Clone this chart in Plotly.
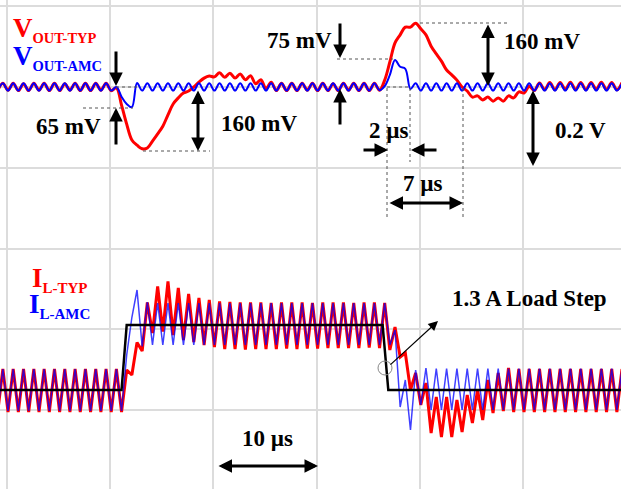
import plotly.graph_objects as go

# ---------------- data ----------------
# sampling of the waveform extrema: one value every half switching period
T0 = -0.9   # µs, time of first sample
DT = 0.5    # µs between samples (ripple trough / peak alternately)

# output voltage deviation, mV
VOUT_TYP = [
    -9, 9, -8, 9, -9, 8, -9, 9, -8, 9, -9, 9, -9, 8, -8, 9, -9, 9, -9, 9, -8, 9,   # k=-1..9
    -9, -2, -45, -92, -131, -144, -153, -151, -134, -116, -97, -69, -42, -27,    # k=10..16
    -15, -10, 0, 12, 22, 27, 25, 35, 24, 34, 22, 32, 18, 28, 8, 18, -4, 12,      # k=17..25
    -9, 9, -9, 9, -9, 9, -8, 9, -9, 9, -9, 8, -9, 9, -8, 9, -9, 9, -9, 9,        # k=26..35
    -8, 17, 62, 109, 129, 148, 148, 158, 144, 129, 101, 82, 64, 42, 30, 17,      # k=36..43
    0, -10, -25, -22, -32, -25, -35, -27, -35, -22, -27, -12, -15, 2, -9, 10,    # k=44..51
    -7, 11, -7, 11, -6, 12, -7, 11, -7, 11, -6, 12, -7, 11, -7, 11,              # k=52..59
]
VOUT_AMC = [
    -9, 9, -9, 9, -9, 9, -9, 9, -9, 9, -9, 9, -9, 9, -9, 9, -9, 9, -9, 9, -9, 9,  # k=-1..9
    -9, 0, -24, -42, -50, 10,                                                    # k=10..12
    -9, 9, -9, 9, -9, 9, -9, 9, -9, 9, -9, 9, -9, 9, -9, 9, -9, 9, -9, 9,        # k=13..22
    -9, 9, -9, 9, -9, 9, -9, 9, -9, 9, -9, 9, -9, 9, -9, 9, -9, 9, -9, 9,        # k=23..32
    -9, 9, -9, 9, -9, 9,                                                         # k=33..35
    -8, 2, 30, 67, 50, 45, -5, 9,                                                # k=36..39
    -9, 9, -9, 9, -9, 9, -9, 9, -9, 9, -9, 9, -9, 9, -9, 9, -9, 9, -9, 9,        # k=40..49
    -9, 9, -9, 9, -9, 9, -9, 9, -9, 9, -9, 9, -9, 9, -9, 9, -9, 9, -9, 9,        # k=50..59
]

# inductor current relative to the light-load level, A
IL_TYP = [
    -0.44, 0.42, -0.44, 0.42, -0.44, 0.42, -0.44, 0.42, -0.44, 0.42, -0.44, 0.42,   # k=-1..4
    -0.44, 0.42, -0.44, 0.42, -0.44, 0.42, -0.44, 0.42, -0.44, 0.42, -0.44, 0.42,   # k=5..10
    -0.44, 0.40, 0.30, 0.95, 0.78, 1.75, 1.14, 2.07, 1.17, 2.17, 1.10, 2.04,        # k=11..16
    1.00, 1.92, 0.96, 1.84, 0.90, 1.80, 0.86, 1.77, 0.82, 1.76,                     # k=17..21
    0.82, 1.75, 0.81, 1.75, 0.82, 1.75, 0.82, 1.74, 0.82, 1.75, 0.83, 1.75,         # k=22..27
    0.82, 1.75, 0.83, 1.74, 0.83, 1.75, 0.84, 1.75, 0.84, 1.75, 0.84, 1.74,         # k=28..33
    0.84, 1.75, 0.85, 1.75, 0.84, 1.74,                                             # k=34..36
    0.80, 1.26, 0.66, 0.74, 0.00, 0.34, -0.30, 0.14, -0.86, -0.14, -0.94, -0.14,    # k=37..42
    -0.94, -0.20, -0.84, -0.10, -0.66, 0.00, -0.60, 0.20, -0.46, 0.34, -0.42, 0.44, # k=43..48
    -0.44, 0.42, -0.44, 0.42, -0.44, 0.42, -0.44, 0.42, -0.44, 0.42, -0.44, 0.42,   # k=49..54
    -0.44, 0.42, -0.44, 0.42, -0.44, 0.42, -0.44, 0.42, -0.44, 0.42,                # k=55..59
]
IL_AMC = [
    -0.42, 0.42, -0.42, 0.42, -0.42, 0.42, -0.42, 0.42, -0.42, 0.42, -0.42, 0.42,   # k=-1..4
    -0.42, 0.42, -0.42, 0.42, -0.42, 0.42, -0.42, 0.42, -0.42, 0.42, -0.42, 0.42,   # k=5..10
    -0.42, 0.70, 1.45, 2.00, 0.87, 1.76,                                            # k=11..13
    0.90, 1.74, 0.90, 1.74, 0.90, 1.74, 0.90, 1.74, 0.90, 1.74, 0.90, 1.74,         # k=14..19
    0.90, 1.74, 0.90, 1.74, 0.90, 1.74, 0.90, 1.74, 0.90, 1.74, 0.90, 1.74,         # k=20..25
    0.90, 1.74, 0.90, 1.74, 0.90, 1.74, 0.90, 1.74, 0.90, 1.74, 0.90, 1.74,         # k=26..31
    0.90, 1.74, 0.90, 1.74, 0.90, 1.74, 0.90, 1.74, 0.90, 1.74,                     # k=32..36
    0.90, 1.20, -0.34, 0.20, -0.80, 0.40, -0.30, 0.44,                              # k=37..40
    -0.40, 0.43, -0.40, 0.43, -0.40, 0.43, -0.40, 0.43, -0.40, 0.43, -0.40, 0.43,   # k=41..46
    -0.40, 0.43, -0.40, 0.43, -0.40, 0.43, -0.40, 0.43, -0.40, 0.43, -0.40, 0.43,   # k=47..52
    -0.40, 0.43, -0.40, 0.43, -0.40, 0.43, -0.40, 0.43, -0.40, 0.43, -0.40, 0.43,   # k=53..58
    -0.40, 0.43,                                                                    # k=59
]

# 1.3 A load step (load current), µs / A
STEP_T = [-1.0, 11.1, 11.6, 36.4, 36.95, 60.0]
STEP_I = [0.0, 0.0, 1.3, 1.3, 0.0, 0.0]

t_v = [T0 + DT * i for i in range(len(VOUT_TYP))]
t_va = [T0 + DT * i for i in range(len(VOUT_AMC))]
t_i = [T0 + DT * i for i in range(len(IL_TYP))]
t_ia = [T0 + DT * i for i in range(len(IL_AMC))]

RED = "#ff0000"
BLUE = "#0000ff"
W, H = 621, 489
SERIF = "Liberation Serif"

fig = go.Figure()
fig.add_trace(go.Scatter(x=t_v, y=VOUT_TYP, mode="lines", yaxis="y",
                         line=dict(color=RED, width=3, shape="spline", smoothing=1.0)))
fig.add_trace(go.Scatter(x=t_va, y=VOUT_AMC, mode="lines", yaxis="y",
                         line=dict(color=BLUE, width=2, shape="spline", smoothing=1.0)))
fig.add_trace(go.Scatter(x=t_i, y=IL_TYP, mode="lines", yaxis="y2",
                         line=dict(color=RED, width=3)))
fig.add_trace(go.Scatter(x=t_ia, y=IL_AMC, mode="lines", yaxis="y2", opacity=0.75,
                         line=dict(color=BLUE, width=1.5)))
fig.add_trace(go.Scatter(x=STEP_T, y=STEP_I, mode="lines", yaxis="y2",
                         line=dict(color="black", width=2.5)))


def P(px, py):
    return px / W, 1 - py / H


shapes = []


def dotted(x0, y0, x1, y1):
    a, b = P(x0, y0)
    c, d = P(x1, y1)
    shapes.append(dict(type="line", xref="paper", yref="paper", x0=a, y0=b, x1=c, y1=d,
                       line=dict(color="#555555", width=1, dash="dot")))


dotted(116, 87, 137, 87)
dotted(83, 108, 133, 108)
dotted(143, 151, 210, 151)
dotted(337, 59, 393, 59)
dotted(387, 87, 410, 87)
dotted(420, 23, 507, 23)
dotted(387, 88, 387, 218)
dotted(410, 88, 410, 162)
dotted(463, 88, 463, 218)

cx0, cy0 = P(378, 361)
cx1, cy1 = P(392, 375)
shapes.append(dict(type="circle", xref="paper", yref="paper", x0=cx0, y0=cy1, x1=cx1, y1=cy0,
                   line=dict(color="#888888", width=1)))

ann = []


def arrow(tx, ty, hx, hy, both=False, width=3, size=0.9):
    x, y = P(hx, hy)
    ann.append(dict(xref="paper", yref="paper", x=x, y=y, ax=tx - hx, ay=ty - hy,
                    text="", showarrow=True, arrowhead=2, startarrowhead=2,
                    arrowsize=size, startarrowsize=size, arrowwidth=width,
                    arrowcolor="black", arrowside="end+start" if both else "end",
                    standoff=0, startstandoff=0))


arrow(116, 50, 116, 86)
arrow(116, 146, 116, 108)
arrow(198, 89, 198, 151, both=True)
arrow(340, 22, 340, 58)
arrow(340, 126, 340, 89)
arrow(488, 23, 488, 86, both=True)
arrow(533, 89, 533, 166, both=True)
arrow(362, 150, 388, 150)
arrow(438, 150, 411, 150)
arrow(388, 203, 463, 203, both=True)
arrow(217, 466, 318, 466, both=True)
arrow(389, 366, 438, 321, width=1.2, size=1.6)


def label(px, py, text, size=23, color="black", anchor="center"):
    x, y = P(px, py)
    ann.append(dict(xref="paper", yref="paper", x=x, y=y, text=text, showarrow=False,
                    xanchor=anchor, yanchor="middle",
                    font=dict(family=SERIF, size=size, color=color, weight="bold")))


label(68, 126, "65 mV")
label(259, 124, "160 mV")
label(299, 40, "75 mV")
label(542, 42, "160 mV")
label(580, 130, "0.2 V")
label(389, 130, "2 µs")
label(423, 183, "7 µs")
label(267, 438, "10 µs")
label(529, 298, "1.3 A Load Step")

label(11, 30, "V<sub><span style='font-size:14.5px'>OUT-TYP</span></sub>", size=27, color=RED, anchor="left")
label(11, 57, "V<sub><span style='font-size:14.5px'>OUT-AMC</span></sub>", size=27, color=BLUE, anchor="left")
label(30, 279, "I<sub><span style='font-size:15px'>L-TYP</span></sub>", size=27, color=RED, anchor="left")
label(27, 305, "I<sub><span style='font-size:15px'>L-AMC</span></sub>", size=27, color=BLUE, anchor="left")

GRID = "#dcdcdc"
fig.update_layout(
    width=W, height=H,
    margin=dict(l=0, r=0, t=0, b=0),
    paper_bgcolor="white", plot_bgcolor="white",
    showlegend=False,
    xaxis=dict(range=[-0.678, 59.5], dtick=10, tick0=0, showgrid=True, gridcolor=GRID,
               gridwidth=1.5, zeroline=False, showticklabels=False, ticks="", showline=False),
    yaxis=dict(range=[-995.0, 215.3], dtick=200, tick0=0, showgrid=True, gridcolor=GRID,
               gridwidth=1.5, zeroline=False, showticklabels=False, ticks="", showline=False),
    yaxis2=dict(range=[-1.98, 7.8], overlaying="y", showgrid=False, zeroline=False,
                showticklabels=False, ticks="", showline=False),
    shapes=shapes,
    annotations=ann,
)

fig.write_html("out.html")
